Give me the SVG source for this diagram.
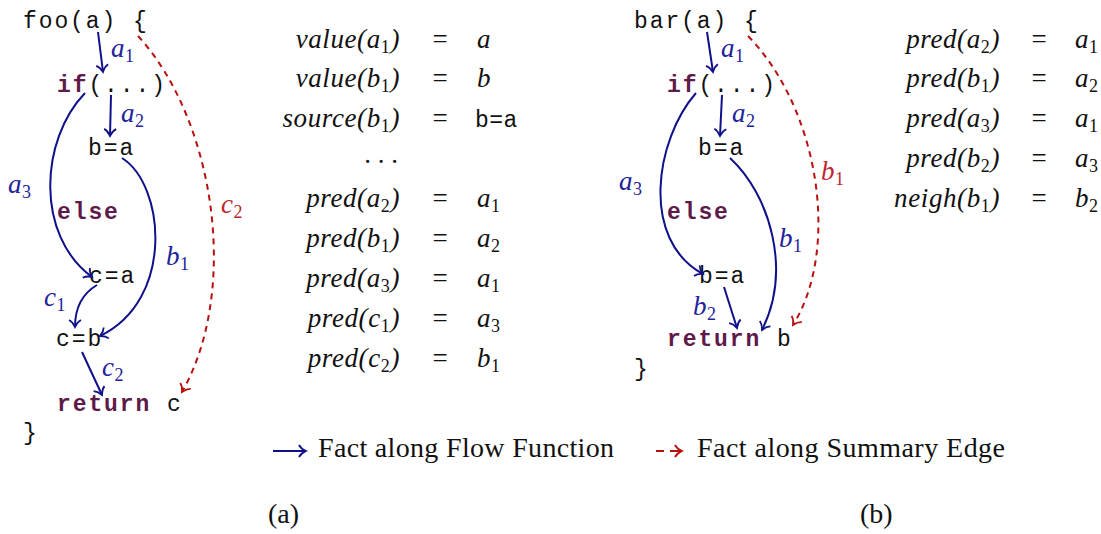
<svg xmlns="http://www.w3.org/2000/svg" width="1101" height="534" viewBox="0 0 1101 534">
<style>
.code{font-family:"Liberation Mono",monospace;font-size:23px;letter-spacing:1.9px;fill:#111}
.kw{font-weight:bold;fill:#5e1a48}
.m{font-family:"Liberation Serif",serif;font-style:italic;font-size:27px;letter-spacing:0.6px;fill:#111}
.sub{font-style:normal;font-size:18px}
.lb{fill:#22229a}
.lr{fill:#c0272d}
.rm{font-family:"Liberation Serif",serif;font-size:27px;fill:#111}
.lg{font-family:"Liberation Serif",serif;font-size:28px;fill:#111}
.fl{fill:none;stroke:#10108a;stroke-width:2}
.su{fill:none;stroke:#b80f0f;stroke-width:2;stroke-dasharray:6 5}
</style>
<defs>
<marker id="ab" markerUnits="userSpaceOnUse" markerWidth="20" markerHeight="20" refX="0" refY="0" viewBox="-10 -10 20 20" orient="auto" overflow="visible">
<path d="M -7 -6 C -5 -2 -1 -0.5 0 0 C -1 0.5 -5 2 -7 6" fill="none" stroke="#10108a" stroke-width="1.8"/>
</marker>
<marker id="ar" markerUnits="userSpaceOnUse" markerWidth="20" markerHeight="20" refX="0" refY="0" viewBox="-10 -10 20 20" orient="auto" overflow="visible">
<path d="M -7 -6 C -5 -2 -1 -0.5 0 0 C -1 0.5 -5 2 -7 6" fill="none" stroke="#b80f0f" stroke-width="1.8"/>
</marker>
</defs>

<g id="foo-code">
<text class="code" x="23" y="28">foo(a) {</text>
<text class="code" x="57" y="92"><tspan class="kw">if</tspan>(...)</text>
<text class="code" x="88" y="155">b=a</text>
<text class="code kw" x="57" y="219">else</text>
<text class="code" x="89" y="283">c=a</text>
<text class="code" x="56" y="346">c=b</text>
<text class="code" x="57" y="411"><tspan class="kw">return</tspan> c</text>
<text class="code" x="23" y="440">}</text>
</g>

<g id="bar-code">
<text class="code" x="634" y="28">bar(a) {</text>
<text class="code" x="667" y="92"><tspan class="kw">if</tspan>(...)</text>
<text class="code" x="698" y="155">b=a</text>
<text class="code kw" x="667" y="219">else</text>
<text class="code" x="699" y="283">b=a</text>
<text class="code" x="667" y="346"><tspan class="kw">return</tspan> b</text>
<text class="code" x="634" y="376">}</text>
</g>

<g id="connectors">
<path class="fl" d="M 98 32 L 103 72" marker-end="url(#ab)"/>
<path class="fl" d="M 111 95 L 110 136" marker-end="url(#ab)"/>
<path class="fl" d="M 85 93 C 40 140 35 235 92 277" marker-end="url(#ab)"/>
<path class="fl" d="M 122 158 C 165 185 175 300 100 336" marker-end="url(#ab)"/>
<path class="fl" d="M 97 285 C 80 295 75 310 75 327" marker-end="url(#ab)"/>
<path class="fl" d="M 82 352 L 102 395" marker-end="url(#ab)"/>
<path class="su" d="M 138 36 C 215 120 240 290 182 392" marker-end="url(#ar)"/>

<path class="fl" d="M 707 32 L 713 72" marker-end="url(#ab)"/>
<path class="fl" d="M 722 95 L 720 136" marker-end="url(#ab)"/>
<path class="fl" d="M 696 93 C 655 140 640 240 703 274" marker-end="url(#ab)"/>
<path class="fl" d="M 730 158 C 770 195 792 270 762 330" marker-end="url(#ab)"/>
<path class="fl" d="M 724 287 L 737 328" marker-end="url(#ab)"/>
<path class="su" d="M 748 36 C 820 110 840 250 793 325" marker-end="url(#ar)"/>
</g>

<g id="edge-labels">
<text class="m lb" x="111" y="57">a<tspan class="sub" dy="5">1</tspan></text>
<text class="m lb" x="121" y="122">a<tspan class="sub" dy="5">2</tspan></text>
<text class="m lb" x="8" y="193">a<tspan class="sub" dy="5">3</tspan></text>
<text class="m lb" x="166" y="265">b<tspan class="sub" dy="5">1</tspan></text>
<text class="m lb" x="44" y="306">c<tspan class="sub" dy="5">1</tspan></text>
<text class="m lb" x="102" y="376">c<tspan class="sub" dy="5">2</tspan></text>
<text class="m lr" x="221" y="213">c<tspan class="sub" dy="5">2</tspan></text>

<text class="m lb" x="721" y="57">a<tspan class="sub" dy="5">1</tspan></text>
<text class="m lb" x="732" y="122">a<tspan class="sub" dy="5">2</tspan></text>
<text class="m lb" x="619" y="190">a<tspan class="sub" dy="5">3</tspan></text>
<text class="m lb" x="779" y="247">b<tspan class="sub" dy="5">1</tspan></text>
<text class="m lb" x="693" y="315">b<tspan class="sub" dy="5">2</tspan></text>
<text class="m lr" x="821" y="180">b<tspan class="sub" dy="5">1</tspan></text>
</g>

<g id="facts-a">
<g text-anchor="end">
<text class="m" x="400" y="48">value(a<tspan class="sub" dy="5">1</tspan><tspan dy="-5">)</tspan></text>
<text class="m" x="400" y="87">value(b<tspan class="sub" dy="5">1</tspan><tspan dy="-5">)</tspan></text>
<text class="m" x="400" y="127">source(b<tspan class="sub" dy="5">1</tspan><tspan dy="-5">)</tspan></text>
<text class="m" x="400" y="207">pred(a<tspan class="sub" dy="5">2</tspan><tspan dy="-5">)</tspan></text>
<text class="m" x="400" y="247">pred(b<tspan class="sub" dy="5">1</tspan><tspan dy="-5">)</tspan></text>
<text class="m" x="400" y="287">pred(a<tspan class="sub" dy="5">3</tspan><tspan dy="-5">)</tspan></text>
<text class="m" x="400" y="327">pred(c<tspan class="sub" dy="5">1</tspan><tspan dy="-5">)</tspan></text>
<text class="m" x="400" y="367">pred(c<tspan class="sub" dy="5">2</tspan><tspan dy="-5">)</tspan></text>
</g>
<g class="rm" text-anchor="middle">
<text x="440" y="48">=</text><text x="440" y="87">=</text><text x="440" y="127">=</text>
<text x="440" y="207">=</text><text x="440" y="247">=</text><text x="440" y="287">=</text>
<text x="440" y="327">=</text><text x="440" y="367">=</text>
<text x="381" y="163">. . .</text>
</g>
<text class="m" x="477" y="48">a</text>
<text class="m" x="477" y="87">b</text>
<text class="code" x="475" y="127" style="letter-spacing:0.5px">b=a</text>
<text class="m" x="477" y="207">a<tspan class="sub" dy="5">1</tspan></text>
<text class="m" x="477" y="247">a<tspan class="sub" dy="5">2</tspan></text>
<text class="m" x="477" y="287">a<tspan class="sub" dy="5">1</tspan></text>
<text class="m" x="477" y="327">a<tspan class="sub" dy="5">3</tspan></text>
<text class="m" x="477" y="367">b<tspan class="sub" dy="5">1</tspan></text>
</g>

<g id="facts-b">
<g text-anchor="end">
<text class="m" x="1000" y="48">pred(a<tspan class="sub" dy="5">2</tspan><tspan dy="-5">)</tspan></text>
<text class="m" x="1000" y="87">pred(b<tspan class="sub" dy="5">1</tspan><tspan dy="-5">)</tspan></text>
<text class="m" x="1000" y="127">pred(a<tspan class="sub" dy="5">3</tspan><tspan dy="-5">)</tspan></text>
<text class="m" x="1000" y="167">pred(b<tspan class="sub" dy="5">2</tspan><tspan dy="-5">)</tspan></text>
<text class="m" x="1000" y="207">neigh(b<tspan class="sub" dy="5">1</tspan><tspan dy="-5">)</tspan></text>
</g>
<g class="rm" text-anchor="middle">
<text x="1039" y="48">=</text><text x="1039" y="87">=</text><text x="1039" y="127">=</text>
<text x="1039" y="167">=</text><text x="1039" y="207">=</text>
</g>
<text class="m" x="1075" y="48">a<tspan class="sub" dy="5">1</tspan></text>
<text class="m" x="1075" y="87">a<tspan class="sub" dy="5">2</tspan></text>
<text class="m" x="1075" y="127">a<tspan class="sub" dy="5">1</tspan></text>
<text class="m" x="1075" y="167">a<tspan class="sub" dy="5">3</tspan></text>
<text class="m" x="1075" y="207">b<tspan class="sub" dy="5">2</tspan></text>
</g>

<g id="legend">
<path class="fl" d="M 273 451 L 306 451" marker-end="url(#ab)"/>
<text class="lg" x="318" y="457" textLength="296" lengthAdjust="spacing">Fact along Flow Function</text>
<path class="su" d="M 656 451 L 682 451" style="stroke-dasharray:8 6 12" marker-end="url(#ar)"/>
<text class="lg" x="697" y="457" textLength="308" lengthAdjust="spacing">Fact along Summary Edge</text>
</g>

<g id="captions">
<text class="lg" x="268" y="523">(a)</text>
<text class="lg" x="860" y="523">(b)</text>
</g>
</svg>
